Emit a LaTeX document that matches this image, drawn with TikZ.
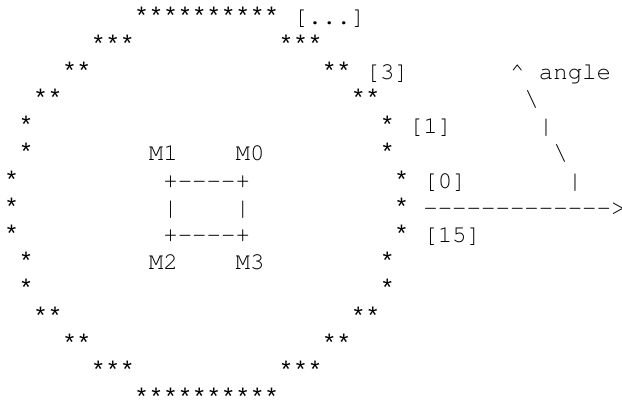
\documentclass[tikz,border=0pt]{standalone}
\usepackage{fontspec}
\newfontfamily\starmono{Liberation Mono}[Ligatures=TeXOff]
\newcommand\asciimono{\usefont{T1}{pcr}{m}{n}}
\tikzset{
  cell/.style={anchor=base west, inner sep=0pt, outer sep=0pt,
    font=\fontsize{24.07pt}{27.19pt}\asciimono, text=black},
  starcell/.style={cell, font=\starmono\fontsize{24.07pt}{27.19pt}\selectfont}}
\newcommand\seg[5][cell]{\node[#1] (#2) at ({4.48pt+14.444pt*#3},{-25pt-27.19pt*#4}) {#5};}
\begin{document}
\begin{tikzpicture}
\useasboundingbox (0,0) rectangle (622pt,-403pt);
% row 0
\seg[starcell]{b0}{9}{0}{**********}
\seg{dots}{20}{0}{[...]}
% row 1
\seg[starcell]{l1}{6}{1}{***}
\seg[starcell]{r1}{19}{1}{***}
% row 2
\seg[starcell]{l2}{4}{2}{**}
\seg[starcell]{r2}{22}{2}{**}
\seg{i3}{25}{2}{[3]}
\seg{caret}{35}{2}{\textasciicircum}
\seg{anglelbl}{37}{2}{angle}
% row 3
\seg[starcell]{l3}{2}{3}{**}
\seg[starcell]{r3}{24}{3}{**}
\seg{a3}{36}{3}{\textbackslash}
% row 4
\seg[starcell]{l4}{1}{4}{*}
\seg[starcell]{r4}{26}{4}{*}
\seg{i1}{28}{4}{[1]}
\seg{a4}{37}{4}{|}
% row 5
\seg[starcell]{l5}{1}{5}{*}
\seg{m1}{10}{5}{M1}
\seg{m0}{16}{5}{M0}
\seg[starcell]{r5}{26}{5}{*}
\seg{a5}{38}{5}{\textbackslash}
% row 6
\seg[starcell]{l6}{0}{6}{*}
\seg{boxtop}{11}{6}{+-{}-{}-{}-+}
\seg[starcell]{r6}{27}{6}{*}
\seg{i0}{29}{6}{[0]}
\seg{a6}{39}{6}{|}
% row 7
\seg[starcell]{l7}{0}{7}{*}
\seg{boxl}{11}{7}{|}
\seg{boxr}{16}{7}{|}
\seg[starcell]{r7}{27}{7}{*}
\seg{axis}{29}{7}{-{}-{}-{}-{}-{}-{}-{}-{}-{}-{}-{}-{}-{}>}
% row 8
\seg[starcell]{l8}{0}{8}{*}
\seg{boxbot}{11}{8}{+-{}-{}-{}-+}
\seg[starcell]{r8}{27}{8}{*}
\seg{i15}{29}{8}{[15]}
% row 9
\seg[starcell]{l9}{1}{9}{*}
\seg{m2}{10}{9}{M2}
\seg{m3}{16}{9}{M3}
\seg[starcell]{r9}{26}{9}{*}
% row 10
\seg[starcell]{l10}{1}{10}{*}
\seg[starcell]{r10}{26}{10}{*}
% row 11
\seg[starcell]{l11}{2}{11}{**}
\seg[starcell]{r11}{24}{11}{**}
% row 12
\seg[starcell]{l12}{4}{12}{**}
\seg[starcell]{r12}{22}{12}{**}
% row 13
\seg[starcell]{l13}{6}{13}{***}
\seg[starcell]{r13}{19}{13}{***}
% row 14
\seg[starcell]{b14}{9}{14}{**********}
\end{tikzpicture}
\end{document}
